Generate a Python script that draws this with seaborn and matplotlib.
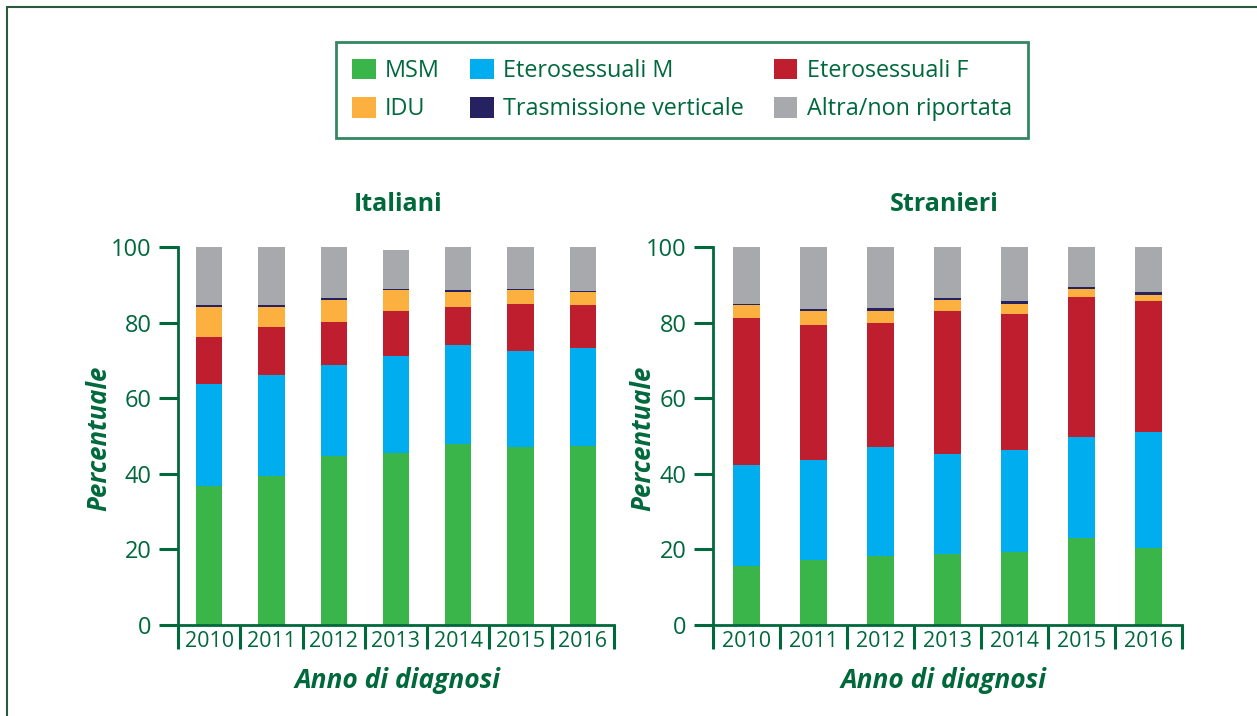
import numpy as np
import pandas as pd
import matplotlib
matplotlib.use("Agg")
import matplotlib.pyplot as plt
import seaborn as sns
from matplotlib.patches import Patch
from matplotlib.lines import Line2D

# dati (percentuali)
anni = ["2010", "2011", "2012", "2013", "2014", "2015", "2016"]
categorie = ["MSM", "Eterosessuali M", "Eterosessuali F", "IDU",
             "Trasmissione verticale", "Altra/non riportata"]
colori = ["#3ab54a", "#00aeef", "#be1e2d", "#fbb040", "#262262", "#a7a9ac"]

# Italiani
ita_msm = [36.8, 39.4, 44.7, 45.6, 47.9, 47.2, 47.4]
ita_etero_m = [26.9, 26.7, 24.0, 25.5, 26.1, 25.2, 25.8]
ita_etero_f = [12.4, 12.7, 11.4, 12.1, 10.0, 12.4, 11.4]
ita_idu = [7.9, 5.2, 6.0, 5.4, 4.2, 3.7, 3.6]
ita_verticale = [0.6, 0.6, 0.3, 0.2, 0.3, 0.5, 0.2]
ita_altra = [15.4, 15.4, 13.6, 10.5, 11.5, 11.0, 11.6]

# Stranieri
str_msm = [15.7, 17.1, 18.3, 18.9, 19.2, 22.9, 20.4]
str_etero_m = [26.6, 26.6, 28.8, 26.3, 27.1, 26.8, 30.6]
str_etero_f = [38.8, 35.6, 32.7, 37.8, 36.1, 37.2, 34.6]
str_idu = [3.5, 3.9, 3.4, 2.9, 2.4, 1.9, 1.6]
str_verticale = [0.3, 0.5, 0.6, 0.5, 0.8, 0.5, 0.8]
str_altra = [15.1, 16.3, 16.2, 13.6, 14.4, 10.7, 12.0]

verde = "#00693c"

sns.set_style("white")
plt.rcParams['font.family'] = ['Open Sans', 'DejaVu Sans']


def stacked_bars(ax, serie, larghezza):
    df = pd.DataFrame(dict(zip(categorie, serie)), index=anni)
    cum = df.cumsum(axis=1)
    # disegno dal totale verso il basso, ogni barra copre la precedente
    for cat, col in reversed(list(zip(categorie, colori))):
        sns.barplot(x=anni, y=cum[cat].values, order=anni, color=col,
                    saturation=1, width=larghezza, errorbar=None,
                    linewidth=0, ax=ax)
    ax.set_xlim(-0.5, 6.5)
    ax.set_ylim(0, 100)
    ax.set_yticks(range(0, 101, 20))
    ax.set_xlabel("")
    ax.set_ylabel("")
    sns.despine(ax=ax)
    for s in ["left", "bottom"]:
        ax.spines[s].set_color(verde)
        ax.spines[s].set_linewidth(2)
    ax.tick_params(axis="y", left=True, length=14, width=2.2, color=verde,
                   labelcolor=verde, labelsize=17, pad=5, direction="out")
    ax.set_xticks(np.arange(-0.5, 7, 1), minor=True)
    ax.tick_params(axis="x", which="major", bottom=True, length=0, pad=4,
                   labelcolor=verde, labelsize=15.5)
    ax.tick_params(axis="x", which="minor", bottom=True, length=17, width=2.2,
                   color=verde, direction="out")
    for t in ax.yaxis.get_major_ticks() + ax.xaxis.get_minor_ticks():
        t.tick1line.set_clip_on(False)


fig = plt.figure(figsize=(12.57, 7.16), dpi=100)
ax1 = fig.add_axes([178 / 1257, 91 / 716, 436 / 1257, 378 / 716])
ax2 = fig.add_axes([713 / 1257, 91 / 716, 469 / 1257, 378 / 716])

stacked_bars(ax1, [ita_msm, ita_etero_m, ita_etero_f, ita_idu, ita_verticale, ita_altra], 0.42)
stacked_bars(ax2, [str_msm, str_etero_m, str_etero_f, str_idu, str_verticale, str_altra], 0.40)

# titoli ed etichette
fig.text(398 / 1257, 1 - 211 / 716, "Italiani", ha="center", va="baseline",
         fontsize=18, fontweight="bold", color=verde)
fig.text(944 / 1257, 1 - 211 / 716, "Stranieri", ha="center", va="baseline",
         fontsize=18, fontweight="bold", color=verde)
for x in [99, 643]:
    fig.text(x / 1257, 1 - 438 / 716, "Percentuale", rotation=90, ha="center",
             va="center", fontsize=18.5, fontweight="bold", style="italic", color=verde)
for x in [398, 944]:
    fig.text(x / 1257, 1 - 681 / 716, "Anno di diagnosi", ha="center", va="center",
             fontsize=19, fontweight="bold", style="italic", color=verde)

# legenda (riempita per colonne)
ordine = [0, 3, 1, 4, 2, 5]
handles = [Patch(facecolor=colori[i], edgecolor="none") for i in ordine]
labels = [categorie[i] for i in ordine]
leg = fig.legend(handles, labels, ncol=3, loc="center",
                 bbox_to_anchor=(682 / 1257, 1 - 90 / 716),
                 frameon=True, fancybox=False, edgecolor=verde,
                 handlelength=1.0, handleheight=1.0, handletextpad=0.4,
                 columnspacing=1.3, labelspacing=0.6, borderpad=0.7,
                 fontsize=16.8, labelcolor=verde)
leg.get_frame().set_linewidth(2)

# cornice esterna (solo lato superiore e sinistro)
fig.add_artist(Line2D([7 / 1257, 1], [1 - 7 / 716, 1 - 7 / 716],
                      transform=fig.transFigure, color="#2a5a3a", lw=1.5))
fig.add_artist(Line2D([7 / 1257, 7 / 1257], [0, 1 - 7 / 716],
                      transform=fig.transFigure, color="#2a5a3a", lw=1.5))

fig.savefig("out.png", dpi=100)
